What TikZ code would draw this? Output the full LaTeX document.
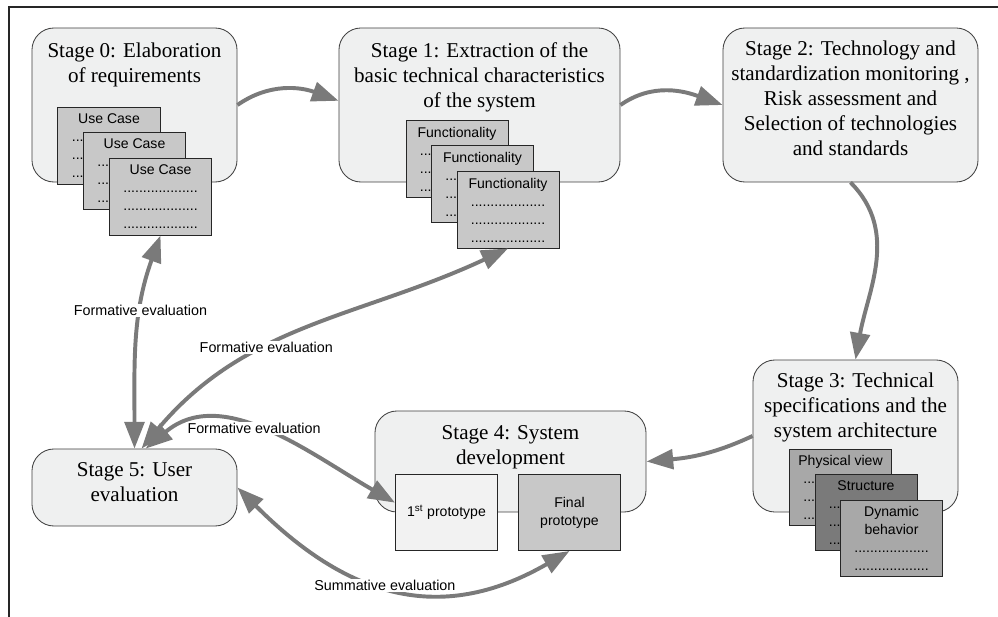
\documentclass[tikz,border=0pt]{standalone}
\usepackage{fontspec}
\setmainfont{Liberation Serif}
\setsansfont{Liberation Sans}
\usepackage{tikz}
\usetikzlibrary{arrows.meta,%
                positioning}
\definecolor{stagefill}{RGB}{239,240,240}
\definecolor{cardgray}{RGB}{200,200,200}
\definecolor{viewgray}{RGB}{168,168,168}
\definecolor{structgray}{RGB}{122,122,122}
\definecolor{protolight}{RGB}{242,242,242}
\definecolor{arrowgray}{RGB}{122,122,122}
\newcommand{\dotrow}{...................}
\newcommand{\hidrow}{\rlap{...}\phantom{\dotrow}}

\begin{document}
\begin{tikzpicture}[x = 0.025cm, y = 0.025cm]
  \useasboundingbox (0,0) rectangle (998,-617);
  \tikzset{StageStyle/.style = {draw           = black!75,
                                fill           = stagefill,
                                rounded corners = 0.55cm,
                                line width     = 0.6pt,
                                inner sep      = 0pt}}
  \tikzset{StageText/.style  = {align          = center,
                                inner sep      = 2pt,
                                font           = {\fontsize{15}{17.9}\selectfont}}}
  \tikzset{CardStyle/.style  = {draw           = black!85,
                                fill           = cardgray,
                                line width     = 0.7pt,
                                minimum width  = 2.55cm,
                                minimum height = 1.9cm,
                                inner sep      = 0pt,
                                align          = center,
                                font           = {\sffamily\fontsize{10}{12.8}\selectfont}}}
  \tikzset{FlowArrow/.style  = {draw           = arrowgray,
                                line width     = 2.8pt,
                                -{Triangle[length=19pt,width=14pt]}}}
  \tikzset{EvalArrow/.style  = {FlowArrow,
                                {Triangle[length=19pt,width=14pt]}-{Triangle[length=19pt,width=14pt]}}}
  \tikzset{LabelStyle/.style = {fill           = white,
                                inner sep      = 1pt,
                                font           = {\sffamily\fontsize{10.2}{12}\selectfont}}}
  % frame
  \draw[line width = 1.2pt, black!85] (9,-617) -- (9,-7) -- (998,-7);
     \node[StageStyle, minimum width = 5.125cm, minimum height = 3.85cm] (s0) at (134.5,-105) {};
     \node[StageText, below = 8.5pt of s0.north] (s0t) {Stage 0: Elaboration\\of requirements};
     \node[StageStyle, minimum width = 7.025cm, minimum height = 3.85cm] (s1) at (479.5,-105) {};
     \node[StageText, below = 8.5pt of s1.north] (s1t) {Stage 1: Extraction of the\\basic technical characteristics\\of the system};
     \node[StageStyle, minimum width = 6.375cm, minimum height = 3.85cm] (s2) at (850.5,-105) {};
     \node[StageText, below = 7pt of s2.north] (s2t) {Stage 2: Technology and\\standardization monitoring ,\\Risk assessment and\\Selection of technologies\\and standards};
     \node[StageStyle, minimum width = 5.125cm, minimum height = 3.8cm] (s3) at (855.5,-436) {};
     \node[StageText, below = 7pt of s3.north] (s3t) {Stage 3: Technical\\specifications and the\\system architecture};
     \node[StageStyle, minimum width = 6.775cm, minimum height = 2.525cm] (s4) at (510.5,-461.5) {};
     \node[StageText, below = 8.5pt of s4.north] (s4t) {Stage 4: System\\development};
     \node[StageStyle, minimum width = 5.125cm, minimum height = 1.925cm] (s5) at (134.5,-487.5) {};
     \node[StageText, below = 7.5pt of s5.north] (s5t) {Stage 5: User\\evaluation};
     \node[CardStyle] (uc1) at (109,-146) {Use Case\\\hidrow\\\hidrow\\\hidrow};
     \node[CardStyle] (uc2) at (134.5,-171) {Use Case\\\hidrow\\\hidrow\\\hidrow};
     \node[CardStyle] (uc3) at (160.5,-197) {Use Case\\\dotrow\\\dotrow\\\dotrow};
     \node[CardStyle] (fn1) at (457,-159) {Functionality\\\hidrow\\\hidrow\\\hidrow};
     \node[CardStyle] (fn2) at (482.5,-184) {Functionality\\\hidrow\\\hidrow\\\hidrow};
     \node[CardStyle] (fn3) at (508,-210) {Functionality\\\dotrow\\\dotrow\\\dotrow};
     \node[CardStyle, fill = viewgray] (pv) at (840.5,-487.5) {Physical view\\\hidrow\\\hidrow\\\hidrow};
     \node[CardStyle, fill = structgray] (st) at (866,-512.5) {Structure\\\hidrow\\\hidrow\\\hidrow};
     \node[CardStyle, fill = viewgray] (db) at (891.5,-538) {Dynamic\\behavior\\\dotrow\\\dotrow};
     \node[CardStyle, fill = protolight] (p1) at (446.5,-512.5) {1\textsuperscript{st} prototype};
     \node[CardStyle] (p2) at (569.5,-512.5) {Final\\prototype};
     \draw[FlowArrow] (s0.east) to[out=35, in=160] ([yshift=3pt]s1.west);
     \draw[FlowArrow] (s1.east) to[out=35, in=160] (s2.west);
     \draw[FlowArrow] (s2.south) to[out=-45, in=80] (s3.north);
     \draw[FlowArrow] (s3.west) to[out=205, in=5] (s4.east);
     \draw[EvalArrow] (s5.north) to[out=90, in=250] node[LabelStyle, pos=0.65]{Formative evaluation} (uc3.south);
     \draw[EvalArrow] ([xshift=5pt]s5.north) to[out=50, in=205] node[LabelStyle, pos=0.38]{Formative evaluation} (fn3.south);
     \draw[EvalArrow] ([xshift=8pt]s5.north) to[out=40, in=150] node[LabelStyle, pos=0.45]{Formative evaluation} ([yshift=7pt]p1.west);
     \draw[EvalArrow] (s5.east) to[out=-45, in=210, looseness=1.15] node[LabelStyle, pos=0.47]{Summative evaluation} (p2.south);
  \end{tikzpicture}
\end{document}
